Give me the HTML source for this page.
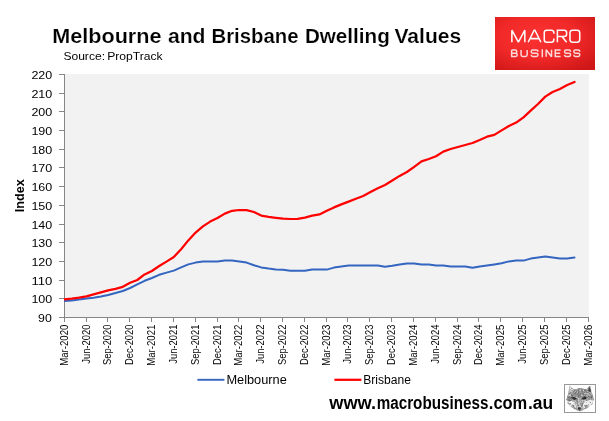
<!DOCTYPE html>
<html><head><meta charset="utf-8"><title>Melbourne and Brisbane Dwelling Values</title>
<style>
html,body{margin:0;padding:0;background:#fff;}
body{width:609px;height:421px;overflow:hidden;font-family:"Liberation Sans",sans-serif;}
svg{display:block}
text{font-family:"Liberation Sans",sans-serif;}
</style></head><body>
<svg width="609" height="421" viewBox="0 0 609 421">
<defs>
<radialGradient id="lg" cx="42%" cy="38%" r="75%">
<stop offset="0" stop-color="#fb3232"/><stop offset="0.5" stop-color="#f22929"/><stop offset="1" stop-color="#cf1717"/>
</radialGradient>
<filter id="bl" x="-10%" y="-10%" width="120%" height="120%" color-interpolation-filters="sRGB">
<feGaussianBlur in="SourceGraphic" stdDeviation="0.45" result="b"/>
<feTurbulence type="fractalNoise" baseFrequency="0.6" numOctaves="2" seed="7" result="n"/>
<feColorMatrix in="n" type="matrix" values="0 0 0 0 0.15  0 0 0 0 0.15  0 0 0 0 0.15  1.5 0 0 0 -0.72" result="dk"/>
<feComposite in="dk" in2="b" operator="in" result="dkc"/>
<feColorMatrix in="n" type="matrix" values="0 0 0 0 1  0 0 0 0 1  0 0 0 0 1  0 1.6 0 0 -0.72" result="lt"/>
<feComposite in="lt" in2="b" operator="in" result="ltc"/>
<feMerge result="m"><feMergeNode in="b"/><feMergeNode in="ltc"/><feMergeNode in="dkc"/></feMerge><feGaussianBlur in="m" stdDeviation="0.25"/>
</filter>
<clipPath id="pc"><rect x="64" y="70" width="526" height="250"/></clipPath>
</defs>
<rect width="609" height="421" fill="#ffffff"/>
<g opacity="0.999">
<rect x="65" y="74" width="524" height="243" fill="#f2f2f2"/>
<g font-size="20.8" font-weight="bold" fill="#000" stroke="#fff" stroke-width="0.16">
<text x="52.2" y="43.3" textLength="109.3" lengthAdjust="spacingAndGlyphs">Melbourne</text>
<text x="167.9" y="43.3" textLength="37.6" lengthAdjust="spacingAndGlyphs">and</text>
<text x="211.5" y="43.3" textLength="87.0" lengthAdjust="spacingAndGlyphs">Brisbane</text>
<text x="304.9" y="43.3" textLength="84.9" lengthAdjust="spacingAndGlyphs">Dwelling</text>
<text x="394.5" y="43.3" textLength="66.6" lengthAdjust="spacingAndGlyphs">Values</text>
</g>
<text x="63.4" y="60" font-size="11.8" fill="#000" textLength="41.6" lengthAdjust="spacingAndGlyphs">Source:</text>
<text x="107.2" y="60" font-size="11.8" fill="#000" textLength="55.5" lengthAdjust="spacingAndGlyphs">PropTrack</text>
<rect x="495" y="17" width="100" height="53" fill="url(#lg)"/>
<path d="M511.88,42.23L511.88,30.17L518.35,42.23L524.83,30.17L524.83,42.23 M528.17,42.23L534.15,30.17L534.95,30.17L540.93,42.23M530.38,38.61L538.72,38.61 M553.83,33.79L553.83,32.57Q553.83,30.17 551.43,30.17L546.67,30.17Q544.27,30.17 544.27,32.57L544.27,39.83Q544.27,42.23 546.67,42.23L551.43,42.23Q553.83,42.23 553.83,39.83L553.83,38.61 M557.38,42.23L557.38,30.17L564.23,30.17Q566.62,30.17 566.62,32.57L566.62,34.04Q566.62,36.44 564.23,36.44L557.38,36.44M562.00,36.44L566.62,42.23 M572.58,30.17L577.12,30.17Q579.73,30.17 579.73,32.77L579.73,39.62Q579.73,42.23 577.12,42.23L572.58,42.23Q569.98,42.23 569.98,39.62L569.98,32.77Q569.98,30.17 572.58,30.17Z" fill="none" stroke="#ffffff" stroke-opacity="0.97" stroke-width="1.55" stroke-linejoin="miter" stroke-miterlimit="1.5" stroke-linecap="butt"/>
<path d="M511.65,50.05L515.35,50.05Q516.75,50.05 516.75,51.45L516.75,51.85Q516.75,53.25 515.35,53.25L511.65,53.25M515.75,53.25Q517.15,53.25 517.15,54.65L517.15,55.05Q517.15,56.45 515.75,56.45L511.65,56.45L511.65,50.05 M521.05,50.05L521.05,54.85Q521.05,56.45 522.65,56.45L525.55,56.45Q527.15,56.45 527.15,54.85L527.15,50.05 M537.95,51.71L537.95,51.45Q537.95,50.05 536.55,50.05L532.65,50.05Q531.25,50.05 531.25,51.45L531.25,51.85Q531.25,53.25 532.65,53.25L536.55,53.25Q537.95,53.25 537.95,54.65L537.95,55.05Q537.95,56.45 536.55,56.45L532.65,56.45Q531.25,56.45 531.25,55.05L531.25,54.79 M542.30,49.30L542.30,57.20 M546.15,56.68L546.15,49.82L551.55,56.68L551.55,49.82 M560.65,50.05L555.25,50.05L555.25,56.45L560.65,56.45M555.25,53.25L560.15,53.25 M570.55,51.71L570.55,51.45Q570.55,50.05 569.15,50.05L565.95,50.05Q564.55,50.05 564.55,51.45L564.55,51.85Q564.55,53.25 565.95,53.25L569.15,53.25Q570.55,53.25 570.55,54.65L570.55,55.05Q570.55,56.45 569.15,56.45L565.95,56.45Q564.55,56.45 564.55,55.05L564.55,54.79 M579.75,51.71L579.75,51.45Q579.75,50.05 578.35,50.05L575.25,50.05Q573.85,50.05 573.85,51.45L573.85,51.85Q573.85,53.25 575.25,53.25L578.35,53.25Q579.75,53.25 579.75,54.65L579.75,55.05Q579.75,56.45 578.35,56.45L575.25,56.45Q573.85,56.45 573.85,55.05L573.85,54.79" fill="none" stroke="#ffffff" stroke-opacity="0.82" stroke-width="1.5" stroke-linejoin="miter" stroke-miterlimit="1.5" stroke-linecap="butt"/>
<g stroke="#868686" stroke-width="1" fill="none" shape-rendering="crispEdges">
<line x1="64.5" y1="74" x2="64.5" y2="318"/>
<line x1="64" y1="317.5" x2="589" y2="317.5"/>
<line x1="59" y1="317.5" x2="64.5" y2="317.5"/>
<line x1="59" y1="298.5" x2="64.5" y2="298.5"/>
<line x1="59" y1="280.5" x2="64.5" y2="280.5"/>
<line x1="59" y1="261.5" x2="64.5" y2="261.5"/>
<line x1="59" y1="242.5" x2="64.5" y2="242.5"/>
<line x1="59" y1="224.5" x2="64.5" y2="224.5"/>
<line x1="59" y1="205.5" x2="64.5" y2="205.5"/>
<line x1="59" y1="186.5" x2="64.5" y2="186.5"/>
<line x1="59" y1="167.5" x2="64.5" y2="167.5"/>
<line x1="59" y1="149.5" x2="64.5" y2="149.5"/>
<line x1="59" y1="130.5" x2="64.5" y2="130.5"/>
<line x1="59" y1="111.5" x2="64.5" y2="111.5"/>
<line x1="59" y1="93.5" x2="64.5" y2="93.5"/>
<line x1="59" y1="74.5" x2="64.5" y2="74.5"/>
<line x1="64.5" y1="317" x2="64.5" y2="322"/>
<line x1="86.5" y1="317" x2="86.5" y2="322"/>
<line x1="107.5" y1="317" x2="107.5" y2="322"/>
<line x1="129.5" y1="317" x2="129.5" y2="322"/>
<line x1="151.5" y1="317" x2="151.5" y2="322"/>
<line x1="173.5" y1="317" x2="173.5" y2="322"/>
<line x1="195.5" y1="317" x2="195.5" y2="322"/>
<line x1="217.5" y1="317" x2="217.5" y2="322"/>
<line x1="238.5" y1="317" x2="238.5" y2="322"/>
<line x1="260.5" y1="317" x2="260.5" y2="322"/>
<line x1="282.5" y1="317" x2="282.5" y2="322"/>
<line x1="304.5" y1="317" x2="304.5" y2="322"/>
<line x1="326.5" y1="317" x2="326.5" y2="322"/>
<line x1="347.5" y1="317" x2="347.5" y2="322"/>
<line x1="369.5" y1="317" x2="369.5" y2="322"/>
<line x1="391.5" y1="317" x2="391.5" y2="322"/>
<line x1="413.5" y1="317" x2="413.5" y2="322"/>
<line x1="435.5" y1="317" x2="435.5" y2="322"/>
<line x1="457.5" y1="317" x2="457.5" y2="322"/>
<line x1="478.5" y1="317" x2="478.5" y2="322"/>
<line x1="500.5" y1="317" x2="500.5" y2="322"/>
<line x1="522.5" y1="317" x2="522.5" y2="322"/>
<line x1="544.5" y1="317" x2="544.5" y2="322"/>
<line x1="566.5" y1="317" x2="566.5" y2="322"/>
<line x1="588.5" y1="317" x2="588.5" y2="322"/>
</g>
<g font-size="11.6" fill="#000" text-anchor="end">
<text x="51.8" y="322.1" textLength="13.7" lengthAdjust="spacingAndGlyphs">90</text>
<text x="52.3" y="303.1" textLength="20.9" lengthAdjust="spacingAndGlyphs">100</text>
<text x="52.3" y="285.1" textLength="20.9" lengthAdjust="spacingAndGlyphs">110</text>
<text x="52.3" y="266.1" textLength="20.9" lengthAdjust="spacingAndGlyphs">120</text>
<text x="52.3" y="247.1" textLength="20.9" lengthAdjust="spacingAndGlyphs">130</text>
<text x="52.3" y="229.1" textLength="20.9" lengthAdjust="spacingAndGlyphs">140</text>
<text x="52.3" y="210.1" textLength="20.9" lengthAdjust="spacingAndGlyphs">150</text>
<text x="52.3" y="191.1" textLength="20.9" lengthAdjust="spacingAndGlyphs">160</text>
<text x="52.3" y="172.1" textLength="20.9" lengthAdjust="spacingAndGlyphs">170</text>
<text x="52.3" y="154.1" textLength="20.9" lengthAdjust="spacingAndGlyphs">180</text>
<text x="52.3" y="135.1" textLength="20.9" lengthAdjust="spacingAndGlyphs">190</text>
<text x="52.3" y="116.1" textLength="20.9" lengthAdjust="spacingAndGlyphs">200</text>
<text x="52.3" y="98.1" textLength="20.9" lengthAdjust="spacingAndGlyphs">210</text>
<text x="52.3" y="79.1" textLength="20.9" lengthAdjust="spacingAndGlyphs">220</text>
</g>
<text transform="translate(23.8,195.8) rotate(-90)" text-anchor="middle" font-size="13" font-weight="bold" fill="#000" textLength="33" lengthAdjust="spacingAndGlyphs">Index</text>
<g font-size="10" fill="#000" text-anchor="end">
<text transform="translate(68.4,324.6) rotate(-90)" textLength="41.2" lengthAdjust="spacingAndGlyphs">Mar-2020</text>
<text transform="translate(90.4,324.6) rotate(-90)" textLength="39.2" lengthAdjust="spacingAndGlyphs">Jun-2020</text>
<text transform="translate(111.4,324.6) rotate(-90)" textLength="40.4" lengthAdjust="spacingAndGlyphs">Sep-2020</text>
<text transform="translate(133.4,324.6) rotate(-90)" textLength="40.4" lengthAdjust="spacingAndGlyphs">Dec-2020</text>
<text transform="translate(155.4,324.6) rotate(-90)" textLength="41.2" lengthAdjust="spacingAndGlyphs">Mar-2021</text>
<text transform="translate(177.4,324.6) rotate(-90)" textLength="39.2" lengthAdjust="spacingAndGlyphs">Jun-2021</text>
<text transform="translate(199.4,324.6) rotate(-90)" textLength="40.4" lengthAdjust="spacingAndGlyphs">Sep-2021</text>
<text transform="translate(221.4,324.6) rotate(-90)" textLength="40.4" lengthAdjust="spacingAndGlyphs">Dec-2021</text>
<text transform="translate(242.4,324.6) rotate(-90)" textLength="41.2" lengthAdjust="spacingAndGlyphs">Mar-2022</text>
<text transform="translate(264.4,324.6) rotate(-90)" textLength="39.2" lengthAdjust="spacingAndGlyphs">Jun-2022</text>
<text transform="translate(286.4,324.6) rotate(-90)" textLength="40.4" lengthAdjust="spacingAndGlyphs">Sep-2022</text>
<text transform="translate(308.4,324.6) rotate(-90)" textLength="40.4" lengthAdjust="spacingAndGlyphs">Dec-2022</text>
<text transform="translate(330.4,324.6) rotate(-90)" textLength="41.2" lengthAdjust="spacingAndGlyphs">Mar-2023</text>
<text transform="translate(351.4,324.6) rotate(-90)" textLength="39.2" lengthAdjust="spacingAndGlyphs">Jun-2023</text>
<text transform="translate(373.4,324.6) rotate(-90)" textLength="40.4" lengthAdjust="spacingAndGlyphs">Sep-2023</text>
<text transform="translate(395.4,324.6) rotate(-90)" textLength="40.4" lengthAdjust="spacingAndGlyphs">Dec-2023</text>
<text transform="translate(417.4,324.6) rotate(-90)" textLength="41.2" lengthAdjust="spacingAndGlyphs">Mar-2024</text>
<text transform="translate(439.4,324.6) rotate(-90)" textLength="39.2" lengthAdjust="spacingAndGlyphs">Jun-2024</text>
<text transform="translate(461.4,324.6) rotate(-90)" textLength="40.4" lengthAdjust="spacingAndGlyphs">Sep-2024</text>
<text transform="translate(482.4,324.6) rotate(-90)" textLength="40.4" lengthAdjust="spacingAndGlyphs">Dec-2024</text>
<text transform="translate(504.4,324.6) rotate(-90)" textLength="41.2" lengthAdjust="spacingAndGlyphs">Mar-2025</text>
<text transform="translate(526.4,324.6) rotate(-90)" textLength="39.2" lengthAdjust="spacingAndGlyphs">Jun-2025</text>
<text transform="translate(548.4,324.6) rotate(-90)" textLength="40.4" lengthAdjust="spacingAndGlyphs">Sep-2025</text>
<text transform="translate(570.4,324.6) rotate(-90)" textLength="40.4" lengthAdjust="spacingAndGlyphs">Dec-2025</text>
<text transform="translate(592.4,324.6) rotate(-90)" textLength="41.2" lengthAdjust="spacingAndGlyphs">Mar-2026</text>
</g>
<g clip-path="url(#pc)">
<polyline points="64.5,300.9 71.8,300.4 79.1,299.5 86.4,298.6 93.6,297.8 100.9,296.6 108.2,295.0 115.5,293.0 122.8,291.0 130.1,288.0 137.3,284.4 144.6,280.8 151.9,278.0 159.2,274.8 166.5,272.6 173.8,270.6 181.1,267.4 188.3,264.4 195.6,262.6 202.9,261.6 210.2,261.6 217.5,261.6 224.8,260.6 232.1,260.6 239.3,261.4 246.6,262.6 253.9,265.2 261.2,267.4 268.5,268.6 275.8,269.6 283.1,269.7 290.3,270.7 297.6,270.8 304.9,270.8 312.2,269.6 319.5,269.6 326.8,269.6 334.0,267.6 341.3,266.6 348.6,265.6 355.9,265.6 363.2,265.6 370.5,265.6 377.8,265.6 385.0,266.8 392.3,265.8 399.6,264.6 406.9,263.4 414.2,263.4 421.5,264.4 428.8,264.4 436.0,265.4 443.3,265.6 450.6,266.6 457.9,266.6 465.2,266.6 472.5,267.8 479.7,266.6 487.0,265.6 494.3,264.5 501.6,263.3 508.9,261.4 516.2,260.6 523.5,260.6 530.7,258.6 538.0,257.6 545.3,256.6 552.6,257.6 559.9,258.6 567.2,258.6 574.5,257.6" fill="none" stroke="#3465c0" stroke-width="2.0" stroke-linejoin="round" stroke-linecap="round"/>
<polyline points="64.5,299.4 71.8,298.6 79.1,297.6 86.4,296.4 93.6,294.4 100.9,292.4 108.2,290.4 115.5,288.8 122.8,286.8 130.1,282.8 137.3,280.0 144.6,274.4 151.9,271.0 159.2,266.0 166.5,261.6 173.8,257.0 181.1,249.2 188.3,240.4 195.6,232.6 202.9,226.4 210.2,221.6 217.5,218.0 224.8,213.6 232.1,210.8 239.3,210.0 246.6,210.2 253.9,212.0 261.2,215.6 268.5,216.8 275.8,217.8 283.1,218.7 290.3,219.0 297.6,218.8 304.9,217.6 312.2,215.6 319.5,214.4 326.8,210.8 334.0,207.4 341.3,204.4 348.6,201.6 355.9,198.8 363.2,196.0 370.5,192.0 377.8,188.2 385.0,185.0 392.3,180.5 399.6,175.9 406.9,172.0 414.2,166.8 421.5,161.4 428.8,159.0 436.0,156.2 443.3,151.6 450.6,149.0 457.9,147.0 465.2,145.0 472.5,143.0 479.7,140.0 487.0,136.7 494.3,134.9 501.6,130.4 508.9,126.0 516.2,122.6 523.5,117.4 530.7,110.6 538.0,104.0 545.3,96.6 552.6,92.0 559.9,89.0 567.2,85.0 574.5,82.0" fill="none" stroke="#ff0000" stroke-width="2.25" stroke-linejoin="round" stroke-linecap="round"/>
</g>
<line x1="197.4" y1="379.8" x2="224.4" y2="379.8" stroke="#3465c0" stroke-width="1.9" stroke-linecap="butt"/>
<text x="226.4" y="384" font-size="12" fill="#000" textLength="60.4" lengthAdjust="spacingAndGlyphs">Melbourne</text>
<line x1="334.4" y1="379.8" x2="361.4" y2="379.8" stroke="#ff0000" stroke-width="2.25" stroke-linecap="butt"/>
<text x="363.3" y="384" font-size="12" fill="#000" textLength="47.6" lengthAdjust="spacingAndGlyphs">Brisbane</text>
<g font-size="17.6" font-weight="bold" fill="#000">
<text x="329.3" y="408.7" textLength="46.8" lengthAdjust="spacingAndGlyphs">www.</text>
<text x="376.7" y="408.7" textLength="111.7" lengthAdjust="spacingAndGlyphs">macrobusiness</text>
<text x="488.8" y="408.7" textLength="38.5" lengthAdjust="spacingAndGlyphs">.com</text>
<text x="527.9" y="408.7" textLength="25.2" lengthAdjust="spacingAndGlyphs">.au</text>
</g>
<rect x="564.5" y="384.5" width="31" height="28" fill="#fff" stroke="#989898" stroke-width="1"/>
<g filter="url(#bl)">
<polygon points="569.4,385.6 571.8,387.7 574.2,389.6 576.5,388.9 580.4,388.2 584.5,388.9 586.2,389.2 588.5,387.0 590.3,385.6 591.0,388.5 591.5,391.5 593.0,395.4 594.2,399.5 592.5,401.4 592.8,403.9 589.8,405.6 588.1,407.8 584.2,409.5 581.4,410.9 579.5,411.5 577.4,410.8 575.1,409.5 571.8,407.5 569.9,405.5 567.5,403.5 567.9,401.4 566.2,399.7 567.5,395.8 568.6,392.0 568.9,388.5" fill="#a9a9a9" />
<polygon points="574.2,389.6 580.4,388.2 586.2,389.2 588.5,392.8 587.2,396.7 583.8,396.2 580.4,398.4 576.5,396.7 572.7,397.1 570.5,393.7" fill="#8c8c8c" />
<polygon points="569.9,386.8 571.8,388.2 573.7,389.9 571.0,392.0 569.6,391.1" fill="#dcdcdc" />
<polygon points="589.8,386.5 590.5,389.4 590.8,392.0 588.5,391.5 587.9,389.6" fill="#3a3a3a" />
<polygon points="588.5,387.2 589.1,388.2 587.6,389.9 587.0,389.2" fill="#c8c8c8" />
<polygon points="568.0,400.5 571.8,400.9 575.2,403.1 576.1,407.4 573.1,407.8 570.1,405.2" fill="#f2f2f2" />
<polygon points="584.6,401.4 588.9,400.1 593.2,400.1 591.9,403.5 588.5,406.9 583.4,408.6 582.9,404.8" fill="#f0f0f0" />
<polygon points="577.4,399.2 581.6,399.2 582.9,404.8 581.4,409.5 579.5,410.8 577.4,409.5 576.1,404.8" fill="#9a9a9a" />
<polygon points="578.5,400.5 580.5,400.5 581.1,405.6 579.5,407.2 578.1,405.6" fill="#c4c4c4" />
<polygon points="570.8,397.1 574.8,396.9 577.1,399.1 574.4,400.0 571.8,399.1" fill="#2a2a2a" />
<polygon points="581.4,398.6 584.0,396.6 587.6,396.9 586.2,399.0 583.4,399.8" fill="#2a2a2a" />
<polygon points="567.5,397.1 570.5,396.2 571.8,400.5 569.3,401.4 567.1,400.1" fill="#7a7a7a" />
<polygon points="588.1,395.4 591.9,395.0 593.6,399.2 589.8,399.8 587.6,398.4" fill="#8a8a8a" />
<polygon points="571.0,404.8 574.0,405.6 575.7,409.1 572.7,407.5" fill="#8e8e8e" />
<polygon points="584.6,406.1 588.1,404.8 588.9,406.5 585.1,408.9" fill="#959595" />
<polygon points="578.0,407.2 580.4,407.2 580.5,408.9 579.3,409.9 578.1,408.9" fill="#1e1e1e" />
</g>
</g>
</svg>
</body></html>
